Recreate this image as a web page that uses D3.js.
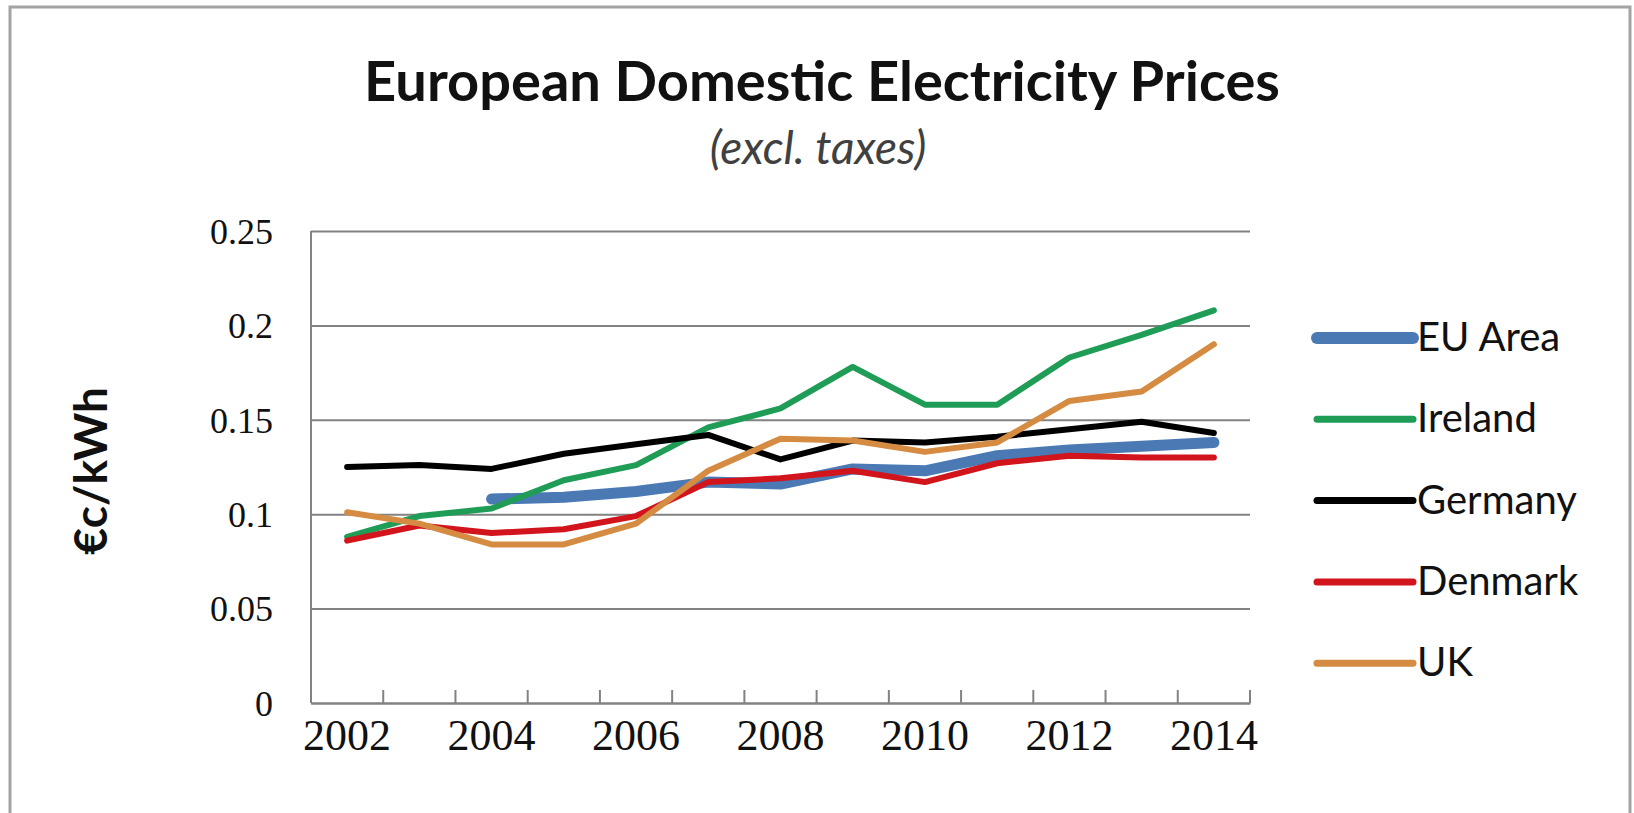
<!DOCTYPE html>
<html>
<head>
<meta charset="utf-8">
<script src="https://cdn.jsdelivr.net/npm/d3@7"></script>
<style>
  body { margin: 0; background: white; }
  svg { display: block; }
</style>
</head>
<body>
<div id="chart"></div>
<script>
// European domestic electricity prices, excl. taxes
const years = ["2002", "2003", "2004", "2005", "2006", "2007", "2008", "2009", "2010", "2011", "2012", "2013", "2014"];
const yearLabels = ["2002", "2004", "2006", "2008", "2010", "2012", "2014"];
const yTicks = [0, 0.05, 0.1, 0.15, 0.2, 0.25];

const euArea  = [null, null, 0.108, 0.109, 0.112, 0.117, 0.116, 0.124, 0.123, 0.131, 0.134, 0.136, 0.138];
const ireland = [0.088, 0.099, 0.103, 0.118, 0.126, 0.146, 0.156, 0.178, 0.158, 0.158, 0.183, 0.195, 0.208];
const germany = [0.125, 0.126, 0.124, 0.132, 0.137, 0.142, 0.129, 0.139, 0.138, 0.141, 0.145, 0.149, 0.143];
const denmark = [0.086, 0.094, 0.090, 0.092, 0.099, 0.117, 0.119, 0.123, 0.117, 0.127, 0.131, 0.130, 0.130];
const uk      = [0.101, 0.095, 0.084, 0.084, 0.095, 0.123, 0.140, 0.139, 0.133, 0.138, 0.160, 0.165, 0.190];

const seriesNames = ["EU Area", "Ireland", "Germany", "Denmark", "UK"];
const seriesValues = [euArea, ireland, germany, denmark, uk];
const seriesColors = ["#4a79b4", "#1f9d57", "#000000", "#d2141d", "#d58b41"];
const seriesWidths = [11, 6, 6, 6, 6];

var dimensions = {
    width: 1634,
    height: 813,
    margin: { top: 231, bottom: 110, left: 311, right: 384 }
};

var svg = d3.select("#chart").append("svg")
    .attr("width", dimensions.width)
    .attr("height", dimensions.height);

// chart frame (bottom edge runs off the picture)
svg.append("rect")
    .attr("x", 10).attr("y", 7)
    .attr("width", 1620).attr("height", 900)
    .attr("fill", "white")
    .attr("stroke", "#a3a3a3")
    .attr("stroke-width", 3);

// titles
svg.append("text")
    .attr("x", 822).attr("y", 101)
    .attr("text-anchor", "middle")
    .style("font-family", "Lato, 'Open Sans', sans-serif")
    .style("font-weight", "bold")
    .style("font-size", "56px")
    .style("fill", "#111")
    .text("European Domestic Electricity Prices");

svg.append("text")
    .attr("x", 818).attr("y", 164)
    .attr("text-anchor", "middle")
    .style("font-family", "Lato, 'Open Sans', sans-serif")
    .style("font-style", "italic")
    .style("font-size", "46px")
    .style("fill", "#404040")
    .text("(excl. taxes)");

let plotRight = dimensions.width - dimensions.margin.right;
let plotBottom = dimensions.height - dimensions.margin.bottom;

let x = d3.scaleBand()
    .domain(years)
    .range([dimensions.margin.left, plotRight]);

let y = d3.scaleLinear()
    .domain([0, 0.25])
    .range([plotBottom, dimensions.margin.top]);

// horizontal gridlines + y labels
const yAxis = svg.append("g")
    .attr("transform", `translate(${dimensions.margin.left},0)`)
    .call(d3.axisLeft(y)
        .tickValues(yTicks)
        .tickSize(-(plotRight - dimensions.margin.left))
        .tickPadding(38)
        .tickFormat(d => String(+d.toFixed(2))));

yAxis.select(".domain").remove();
yAxis.selectAll(".tick line")
    .attr("stroke", "#828282")
    .attr("stroke-width", 2);
yAxis.selectAll(".tick text")
    .style("font-family", "'Liberation Serif', 'DejaVu Serif', serif")
    .style("font-size", "36px")
    .style("fill", "#111")
    .attr("dy", "0.34em");

// left axis line
svg.append("line")
    .attr("x1", dimensions.margin.left).attr("x2", dimensions.margin.left)
    .attr("y1", y(0.25)).attr("y2", y(0))
    .attr("stroke", "#828282")
    .attr("stroke-width", 2);

// x axis with labels every second year
const xAxis = svg.append("g")
    .attr("transform", `translate(0,${plotBottom})`)
    .call(d3.axisBottom(x)
        .tickValues(yearLabels)
        .tickSize(0)
        .tickPadding(16));

xAxis.select(".domain")
    .attr("stroke", "#828282")
    .attr("stroke-width", 2);
xAxis.selectAll(".tick text")
    .style("font-family", "'Liberation Serif', 'DejaVu Serif', serif")
    .style("font-size", "44px")
    .style("fill", "#111")
    .attr("dy", "0.71em");

// tick marks between categories, pointing into the plot
let boundaries = years.slice(1).map(d => x(d)).concat([x.range()[1]]);
svg.selectAll(".cat-tick")
    .data(boundaries)
    .enter().append("line")
    .attr("class", "cat-tick")
    .attr("x1", d => d).attr("x2", d => d)
    .attr("y1", plotBottom).attr("y2", plotBottom - 13)
    .attr("stroke", "#828282")
    .attr("stroke-width", 2);

// y axis title
svg.append("text")
    .attr("transform", "translate(107,471) rotate(-90)")
    .attr("text-anchor", "middle")
    .style("font-family", "Lato, 'Open Sans', sans-serif")
    .style("font-weight", "bold")
    .style("font-size", "46px")
    .style("fill", "#111")
    .text("€c/kWh");

// series lines
let line = d3.line()
    .defined(d => d != null)
    .x((d, i) => x(years[i]) + x.bandwidth() / 2)
    .y(d => y(d));

seriesValues.forEach((vals, i) => {
    svg.append("path")
        .datum(vals)
        .attr("d", line)
        .attr("fill", "none")
        .attr("stroke", seriesColors[i])
        .attr("stroke-width", seriesWidths[i])
        .attr("stroke-linejoin", "round")
        .attr("stroke-linecap", "round");
});

// legend
const legend = svg.append("g")
    .attr("transform", "translate(1317,338)");

seriesNames.forEach((name, i) => {
    let row = legend.append("g")
        .attr("transform", `translate(0,${i * 81.3})`);
    row.append("line")
        .attr("x1", 0).attr("x2", 96)
        .attr("y1", 0).attr("y2", 0)
        .attr("stroke", seriesColors[i])
        .attr("stroke-width", seriesWidths[i] + 1)
        .attr("stroke-linecap", "round");
    row.append("text")
        .attr("x", 100).attr("y", 13)
        .style("font-family", "Lato, 'Open Sans', sans-serif")
        .style("font-size", "40px")
        .style("fill", "#111")
        .text(name);
});
</script>
</body>
</html>
